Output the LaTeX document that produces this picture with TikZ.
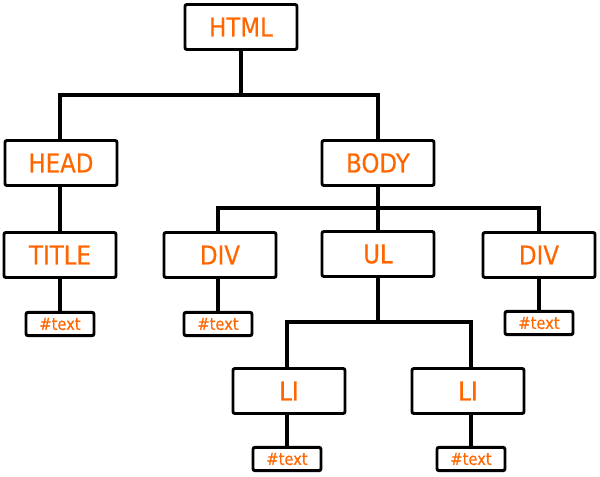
\documentclass[tikz,border=0pt]{standalone}
\usepackage{fontspec}
\setmainfont{DejaVu Sans}[FakeStretch=0.88,FakeBold=0.4]
\definecolor{tagorange}{HTML}{FF6600}
\begin{document}
\begin{tikzpicture}[x=0.75pt,y=-0.75pt,
  line width=2.4pt,
  tagbox/.style={draw=black,fill=white,rounded corners=1.5pt,inner sep=0pt,
    line width=2.2pt,
    minimum width=84pt,minimum height=33.75pt,text=tagorange,
    font=\fontsize{19.5pt}{21pt}\selectfont},
  textbox/.style={draw=black,fill=white,rounded corners=1.5pt,inner sep=0pt,
    line width=2.2pt,
    minimum width=51pt,minimum height=17.5pt,text=tagorange,
    font=\fontsize{12.5pt}{14pt}\selectfont},
  link/.style={draw=black,line width=2.4pt}]
\useasboundingbox (0,0) rectangle (600,476);
\node[tagbox] (html) at (241,27) {HTML};
\node[tagbox] (head) at (61,163) {HEAD};
\node[tagbox] (body) at (378,163) {BODY};
\node[tagbox] (title) at (60,255) {TITLE};
\node[tagbox] (div1) at (220,255) {DIV};
\node[tagbox] (ul) at (378,254) {UL};
\node[tagbox] (div2) at (539,255) {DIV};
\node[tagbox] (li1) at (289,391) {LI};
\node[tagbox] (li2) at (468,391) {LI};
\node[textbox] (t1) at (60,324) {\#text};
\node[textbox] (t2) at (218,324) {\#text};
\node[textbox] (t3) at (539,323) {\#text};
\node[textbox] (t4) at (287,459) {\#text};
\node[textbox] (t5) at (471,459) {\#text};
\coordinate (j1) at (241,95);
\coordinate (j2) at (378,208);
\coordinate (j3) at (378,322);
\draw[link] (html) -- (j1);
\draw[link] (head.north -| title.north) |- (j1) -| (body.north);
\draw[link] (head.south -| title.north) -- (title.north);
\draw[link] (title.south) -- (t1.north -| title.south);
\draw[link] (body.south) -- (j2);
\draw[link] (div1.north -| t2.north) |- (j2) -| (div2.north);
\draw[link] (j2) -- (ul.north);
\draw[link] (div1.south -| t2.north) -- (t2.north);
\draw[link] (div2.south) -- (t3.north);
\draw[link] (ul.south) -- (j3);
\draw[link] (li1.north -| t4.north) |- (j3) -| (li2.north -| t5.north);
\draw[link] (li1.south -| t4.north) -- (t4.north);
\draw[link] (li2.south -| t5.north) -- (t5.north);
\end{tikzpicture}
\end{document}
